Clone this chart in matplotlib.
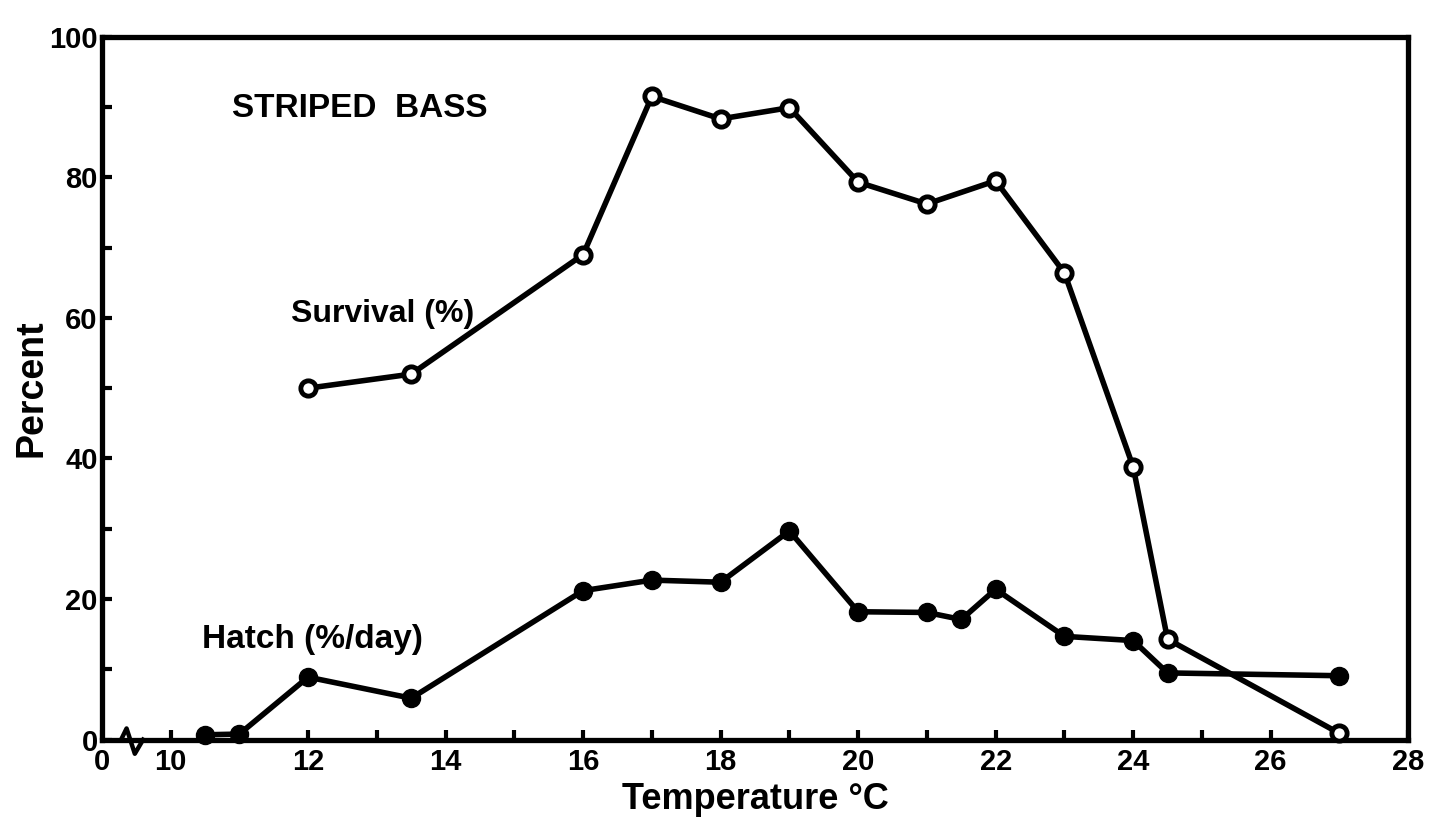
import matplotlib.pyplot as plt
from matplotlib.ticker import FixedLocator, FixedFormatter
import matplotlib.transforms as mtransforms

plt.rcParams['font.family'] = ['Liberation Sans', 'DejaVu Sans']
plt.rcParams['font.weight'] = 'bold'

# temperature (deg C) and percent values
survival_temp = [12, 13.5, 16, 17, 18, 19, 20, 21, 22, 23, 24, 24.5, 27]
survival_pct = [50, 52, 69, 91.5, 88.3, 89.9, 79.3, 76.2, 79.5, 66.4, 38.8, 14.3, 0.9]

hatch_temp = [10.5, 11, 12, 13.5, 16, 17, 18, 19, 20, 21, 21.5, 22, 23, 24, 24.5, 27]
hatch_pct = [0.7, 0.8, 8.9, 5.9, 21.2, 22.7, 22.4, 29.7, 18.2, 18.1, 17.1, 21.4,
             14.7, 14.1, 9.5, 9.1]

x_major = [9, 10, 12, 14, 16, 18, 20, 22, 24, 26, 28]
x_labels = ['0', '10', '12', '14', '16', '18', '20', '22', '24', '26', '28']
x_minor = list(range(10, 28))
y_major = [0, 20, 40, 60, 80, 100]
y_minor = [10, 30, 50, 70, 90]

fig = plt.figure(figsize=(14.34, 8.33), dpi=100)
ax = fig.add_axes([0.071, 0.112, 0.911, 0.844])

ax.plot(survival_temp, survival_pct, color='black', lw=4, marker='o',
        markersize=11, markerfacecolor='white', markeredgecolor='black',
        markeredgewidth=3.5, clip_on=False, zorder=3)
ax.plot(hatch_temp, hatch_pct, color='black', lw=4, marker='o',
        markersize=13, markerfacecolor='black', markeredgecolor='black',
        clip_on=False, zorder=3)

ax.set_xlim(9, 28)
ax.set_ylim(0, 100)

ax.xaxis.set_major_locator(FixedLocator(x_major))
ax.xaxis.set_major_formatter(FixedFormatter(x_labels))
ax.xaxis.set_minor_locator(FixedLocator(x_minor))
ax.yaxis.set_major_locator(FixedLocator(y_major))
ax.yaxis.set_minor_locator(FixedLocator(y_minor))

ax.tick_params(axis='both', which='both', direction='in', width=3,
               length=7, labelsize=21, colors='black', pad=3)
ax.tick_params(axis='x', which='major', pad=6)
for lab in ax.get_xticklabels() + ax.get_yticklabels():
    lab.set_fontweight('bold')

for sp in ax.spines.values():
    sp.set_linewidth(3.8)
    sp.set_color('black')

# axis break symbol on the bottom spine
trans = mtransforms.blended_transform_factory(ax.transData, ax.transAxes)
ax.plot([9.28, 9.36, 9.48, 9.6], [0, 0.016, -0.02, 0], color='black',
        lw=3.2, transform=trans, clip_on=False, zorder=4)

ax.set_xlabel('Temperature °C', fontsize=26, fontweight='bold', labelpad=4)
ax.set_ylabel('Percent', fontsize=27, fontweight='bold', labelpad=0)

ax.text(0.1, 0.898, 'STRIPED  BASS', transform=ax.transAxes, fontsize=24,
        fontweight='bold', va='center', ha='left')
ax.text(11.75, 60.6, 'Survival (%)', fontsize=23, fontweight='bold',
        va='center', ha='left')
ax.text(10.45, 14.3, 'Hatch (%/day)', fontsize=24, fontweight='bold',
        va='center', ha='left')

fig.savefig('out.png', dpi=100)
